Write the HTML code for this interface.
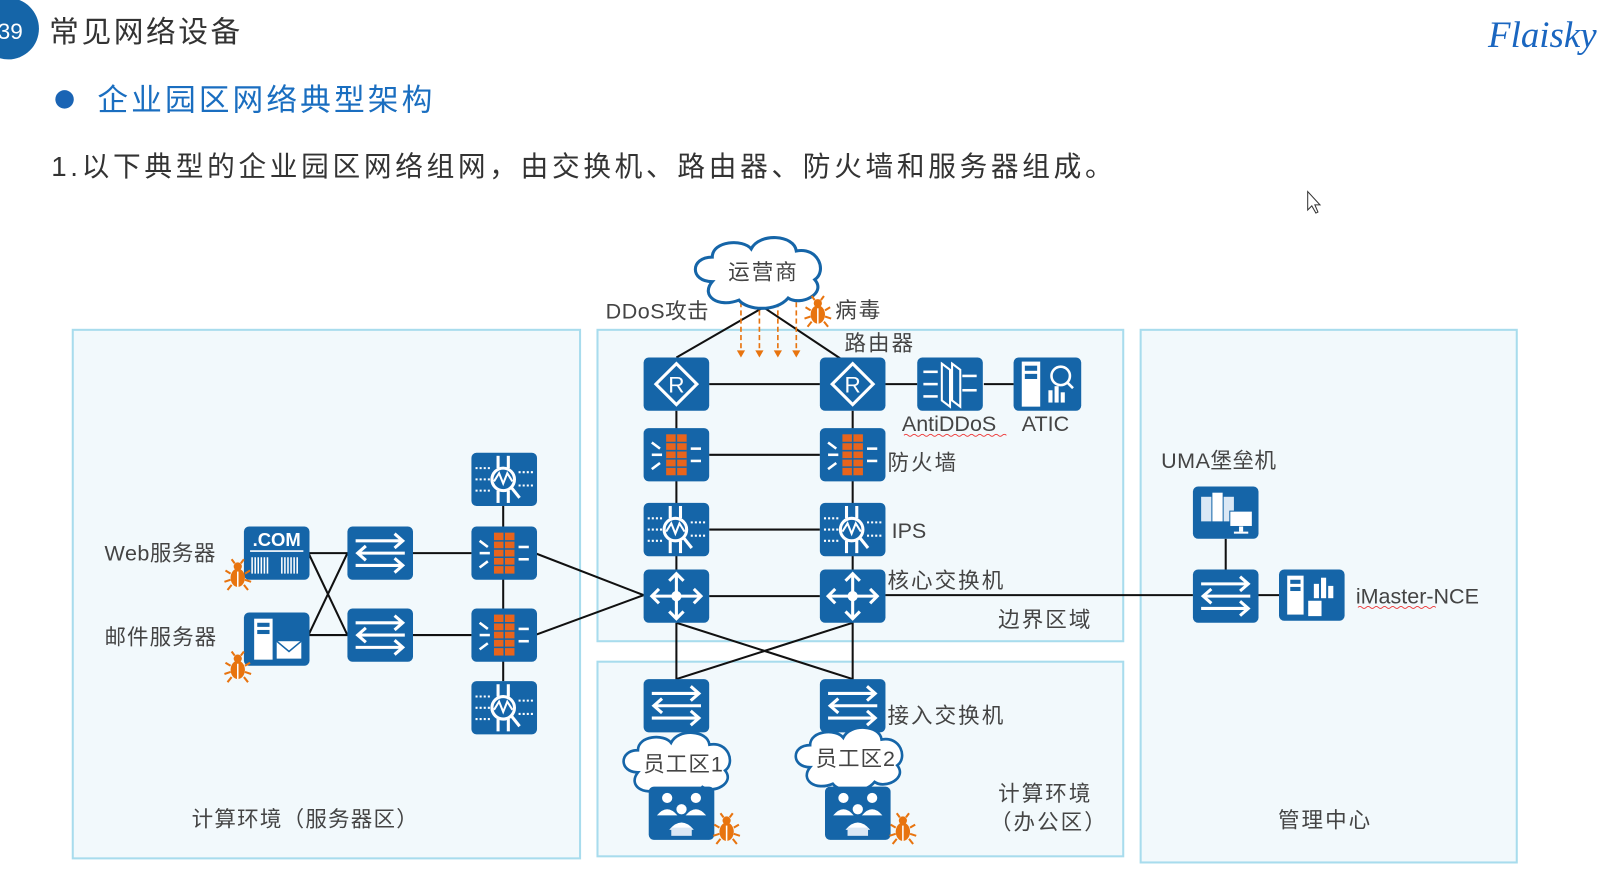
<!DOCTYPE html>
<html><head><meta charset="utf-8"><style>
html,body{margin:0;padding:0;background:#fff;}
svg{display:block;font-family:"Liberation Sans","Noto Sans CJK SC",sans-serif;}
</style></head><body>
<svg width="1609" height="885" viewBox="0 0 1570 864" preserveAspectRatio="none" xmlns="http://www.w3.org/2000/svg">
<defs>
<g id="box"><rect x="0" y="0" width="64" height="52" rx="5" fill="#1565a8"/></g>
<g id="router"><use href="#box"/><path d="M32 6 L52 26 L32 46 L12 26Z" fill="none" stroke="#fff" stroke-width="3"/><text x="32" y="34" font-size="22" fill="#fff" text-anchor="middle">R</text></g>
<g id="fw"><use href="#box"/><rect x="22" y="6" width="20" height="40" fill="#e8641c"/><g stroke="#1565a8" stroke-width="1.5"><line x1="22" y1="14" x2="42" y2="14"/><line x1="22" y1="22" x2="42" y2="22"/><line x1="22" y1="30" x2="42" y2="30"/><line x1="22" y1="38" x2="42" y2="38"/><line x1="32" y1="6" x2="32" y2="46"/></g><g stroke="#fff" stroke-width="2.5"><line x1="8" y1="26" x2="18" y2="26"/><line x1="46" y1="20" x2="56" y2="20"/><line x1="46" y1="32" x2="56" y2="32"/><line x1="8" y1="14" x2="16" y2="20"/><line x1="8" y1="40" x2="16" y2="34"/></g></g>
<g id="ips"><use href="#box"/><g stroke="#fff" stroke-width="2" stroke-dasharray="2 2"><line x1="4" y1="15" x2="18" y2="15"/><line x1="4" y1="26" x2="18" y2="26"/><line x1="4" y1="37" x2="18" y2="37"/><line x1="46" y1="19" x2="60" y2="19"/><line x1="46" y1="32" x2="60" y2="32"/></g><circle cx="31" cy="26" r="11" fill="none" stroke="#fff" stroke-width="3"/><path d="M22 28 L27 20 L31 30 L35 20 L40 28" fill="none" stroke="#fff" stroke-width="2"/><line x1="39" y1="34" x2="47" y2="44" stroke="#fff" stroke-width="3"/><g stroke="#fff" stroke-width="3"><line x1="26" y1="3" x2="26" y2="15"/><line x1="36" y1="3" x2="36" y2="15"/><line x1="26" y1="37" x2="26" y2="49"/><line x1="36" y1="37" x2="36" y2="49"/></g></g>
<g id="sw"><use href="#box"/><g stroke="#fff" stroke-width="3" fill="none"><line x1="8" y1="14" x2="54" y2="14"/><path d="M46 7 L54 14 L46 21"/><line x1="10" y1="26" x2="56" y2="26"/><path d="M18 19 L10 26 L18 33"/><line x1="8" y1="38" x2="54" y2="38"/><path d="M46 31 L54 38 L46 45"/></g></g>
<g id="core"><use href="#box"/><g stroke="#fff" stroke-width="3" fill="none"><line x1="8" y1="26" x2="56" y2="26"/><line x1="32" y1="4" x2="32" y2="48"/><path d="M15 19 L8 26 L15 33"/><path d="M49 19 L56 26 L49 33"/><path d="M25 11 L32 4 L39 11"/><path d="M25 41 L32 48 L39 41"/></g><circle cx="32" cy="26" r="5" fill="#fff"/></g>
<g id="bug" fill="#e8740f"><ellipse cx="0" cy="4" rx="7" ry="9"/><circle cx="0" cy="-7" r="4"/><g stroke="#e8740f" stroke-width="2"><line x1="-7" y1="0" x2="-12" y2="-3"/><line x1="7" y1="0" x2="12" y2="-3"/><line x1="-7" y1="6" x2="-13" y2="8"/><line x1="7" y1="6" x2="13" y2="8"/><line x1="-6" y1="11" x2="-10" y2="16"/><line x1="6" y1="11" x2="10" y2="16"/><line x1="-3" y1="-10" x2="-6" y2="-14"/><line x1="3" y1="-10" x2="6" y2="-14"/></g><line x1="0" y1="-2" x2="0" y2="13" stroke="#fff" stroke-width="1.5"/></g>
<g id="people"><use href="#box"/><g fill="#fff"><circle cx="18" cy="11" r="5"/><circle cx="46" cy="11" r="5"/><circle cx="32" cy="22" r="5"/><path d="M8 28 Q18 16 28 28Z"/><path d="M36 28 Q46 16 56 28Z"/><path d="M20 42 Q32 28 44 42Z"/><rect x="22" y="40" width="20" height="8" fill="#dbe8f5"/></g></g>
<g id="cloud"><path d="M-50 10 C-72 10 -72 -14 -50 -14 C-50 -30 -20 -32 -12 -22 C-4 -38 30 -36 32 -20 C54 -24 62 0 50 8 C62 22 36 34 24 26 C12 40 -16 38 -24 28 C-44 36 -62 24 -50 10Z" fill="#fff" stroke="#1565a8" stroke-width="3"/></g>
</defs>

<!-- header -->
<circle cx="8" cy="28" r="30" fill="#1565a8"/>
<text x="10" y="38" font-size="22" fill="#fff" text-anchor="middle">39</text>
<text x="48" y="41" font-size="29" fill="#333" letter-spacing="2.5">常见网络设备</text>
<text x="1452" y="46" font-size="36" fill="#1a66c0" font-style="italic" font-family="Liberation Serif,serif">Flaisky</text>
<circle cx="63" cy="97" r="9" fill="#1a64b4"/>
<text x="95" y="108" font-size="30" fill="#1a6ec0" letter-spacing="3">企业园区网络典型架构</text>
<text x="50" y="172" font-size="27" fill="#333" letter-spacing="3.6">1.以下典型的企业园区网络组网，由交换机、路由器、防火墙和服务器组成。</text>
<path d="M1276 187 L1276 205 L1280 201 L1284 208 L1286 207 L1283 200 L1288 200Z" fill="#fff" stroke="#333" stroke-width="1"/>

<!-- zones -->
<g fill="#f2f9fc" stroke="#a8dced" stroke-width="2">
<rect x="71" y="322" width="495" height="516"/>
<rect x="583" y="322" width="513" height="304"/>
<rect x="583" y="646" width="513" height="190"/>
<rect x="1113" y="322" width="367" height="520"/>
</g>

<!-- lines -->
<g stroke="#111" stroke-width="2" fill="none">
<path d="M660 349 L745 300 L820 350"/>
<line x1="692" y1="375" x2="800" y2="375"/><line x1="864" y1="375" x2="895" y2="375"/><line x1="960" y1="375" x2="989" y2="375"/>
<line x1="692" y1="444" x2="800" y2="444"/><line x1="692" y1="517" x2="800" y2="517"/><line x1="692" y1="582" x2="800" y2="582"/>
<line x1="660" y1="401" x2="660" y2="556"/><line x1="832" y1="401" x2="832" y2="556"/>
<line x1="864" y1="581" x2="1164" y2="581"/><line x1="1196" y1="526" x2="1196" y2="556"/><line x1="1228" y1="581" x2="1248" y2="581"/>
<path d="M660 608 L660 663 L832 608 L832 663 L660 608"/>
<line x1="522" y1="540" x2="628" y2="581"/><line x1="522" y1="620" x2="628" y2="581"/>
<line x1="491" y1="492" x2="491" y2="665"/>
<line x1="402" y1="540" x2="460" y2="540"/><line x1="402" y1="620" x2="460" y2="620"/>
<path d="M301 540 L339 540 L301 620 L339 620 L301 540"/>
</g>
<g stroke="#e8740f" stroke-width="1.6" stroke-dasharray="5 3"><line x1="723" y1="295" x2="723" y2="344"/><line x1="741" y1="295" x2="741" y2="344"/><line x1="759" y1="295" x2="759" y2="344"/><line x1="777" y1="295" x2="777" y2="344"/></g>
<g fill="#e8740f"><path d="M719 342 L727 342 L723 349Z"/><path d="M737 342 L745 342 L741 349Z"/><path d="M755 342 L763 342 L759 349Z"/><path d="M773 342 L781 342 L777 349Z"/></g>

<use href="#cloud" transform="translate(745,265)"/>
<text x="745" y="273" font-size="21" fill="#444" text-anchor="middle" letter-spacing="2">运营商</text>

<!-- middle devices -->
<use href="#router" x="628" y="349"/><use href="#router" x="800" y="349"/>
<g transform="translate(895,349)"><use href="#box"/><g stroke="#fff" stroke-width="2.5"><line x1="6" y1="14" x2="20" y2="14"/><line x1="6" y1="26" x2="20" y2="26"/><line x1="6" y1="38" x2="20" y2="38"/><line x1="44" y1="18" x2="58" y2="18"/><line x1="44" y1="32" x2="58" y2="32"/></g><path d="M24 6 L32 12 L32 48 L24 42Z M34 6 L42 12 L42 48 L34 42Z" fill="none" stroke="#fff" stroke-width="2"/></g>
<g transform="translate(989,349)"><rect width="66" height="52" rx="5" fill="#1565a8"/><rect x="8" y="4" width="18" height="44" fill="#fff"/><rect x="11" y="8" width="12" height="5" fill="#1565a8"/><rect x="11" y="16" width="12" height="5" fill="#1565a8"/><circle cx="46" cy="18" r="9" fill="none" stroke="#fff" stroke-width="2.5"/><line x1="52" y1="24" x2="58" y2="30" stroke="#fff" stroke-width="2.5"/><rect x="34" y="32" width="4" height="12" fill="#fff"/><rect x="40" y="28" width="4" height="16" fill="#fff"/><rect x="46" y="34" width="4" height="10" fill="#fff"/></g>
<use href="#fw" x="628" y="418"/><use href="#fw" x="800" y="418"/>
<use href="#ips" x="628" y="491"/><use href="#ips" x="800" y="491"/>
<use href="#core" x="628" y="556"/><use href="#core" x="800" y="556"/>
<use href="#sw" x="628" y="663"/><use href="#sw" x="800" y="663"/>
<use href="#cloud" transform="translate(665,745) scale(0.85,0.9)"/>
<use href="#cloud" transform="translate(833,740) scale(0.85,0.9)"/>
<text x="667" y="753" font-size="21" fill="#444" text-anchor="middle" letter-spacing="1">员工区1</text>
<text x="835" y="748" font-size="21" fill="#444" text-anchor="middle" letter-spacing="1">员工区2</text>
<use href="#people" x="633" y="768"/><use href="#people" x="805" y="768"/>
<use href="#bug" transform="translate(709,808)"/><use href="#bug" transform="translate(881,808)"/>
<use href="#bug" transform="translate(798,303)"/>

<!-- left devices -->
<use href="#ips" x="460" y="442"/><use href="#fw" x="460" y="514"/><use href="#fw" x="460" y="594"/><use href="#ips" x="460" y="665"/>
<use href="#sw" x="339" y="514"/><use href="#sw" x="339" y="594"/>
<g transform="translate(238,514)"><rect width="64" height="52" rx="5" fill="#1565a8"/><text x="32" y="19" font-size="18" font-weight="bold" fill="#fff" text-anchor="middle">.COM</text><line x1="6" y1="24" x2="58" y2="24" stroke="#fff" stroke-width="1.5"/><path d="M8 30 V46 M11 30 V46 M14 30 V46 M17 30 V46 M20 30 V46 M23 30 V46 M37 30 V46 M40 30 V46 M43 30 V46 M46 30 V46 M49 30 V46 M52 30 V46" stroke="#fff" stroke-width="1.5"/></g>
<g transform="translate(238,598)"><rect width="64" height="52" rx="5" fill="#1565a8"/><rect x="10" y="6" width="18" height="40" fill="#fff"/><rect x="13" y="10" width="12" height="4" fill="#1565a8"/><rect x="13" y="17" width="12" height="4" fill="#1565a8"/><rect x="32" y="28" width="24" height="17" fill="#fff"/><path d="M32 28 L44 38 L56 28" fill="none" stroke="#1565a8" stroke-width="1.5"/></g>
<use href="#bug" transform="translate(232,560)"/><use href="#bug" transform="translate(232,650)"/>

<!-- right devices -->
<g transform="translate(1164,475)"><rect width="64" height="51" rx="5" fill="#1565a8"/><rect x="8" y="10" width="10" height="24" fill="#dbe8f5"/><rect x="19" y="6" width="10" height="28" fill="#fff"/><rect x="30" y="10" width="10" height="24" fill="#dbe8f5"/><rect x="36" y="24" width="22" height="15" fill="#fff" stroke="#1565a8"/><rect x="45" y="39" width="4" height="5" fill="#fff"/><rect x="40" y="44" width="14" height="2" fill="#fff"/></g>
<use href="#sw" x="1164" y="556"/>
<g transform="translate(1248,556)"><rect width="64" height="50" rx="5" fill="#1565a8"/><rect x="8" y="6" width="16" height="38" fill="#fff"/><rect x="11" y="10" width="10" height="4" fill="#1565a8"/><rect x="11" y="17" width="10" height="4" fill="#1565a8"/><rect x="34" y="14" width="5" height="14" fill="#fff"/><rect x="41" y="8" width="5" height="20" fill="#fff"/><rect x="48" y="16" width="5" height="12" fill="#fff"/><rect x="28" y="30" width="14" height="16" fill="#fff" stroke="#1565a8"/></g>

<!-- labels -->
<g font-size="21" fill="#444" letter-spacing="2">
<text x="591" y="311" letter-spacing="0.5">DDoS攻击</text>
<text x="815" y="310">病毒</text>
<text x="824" y="342">路由器</text>
<text x="880" y="421" letter-spacing="0">AntiDDoS</text>
<text x="997" y="421" letter-spacing="0">ATIC</text>
<text x="866" y="459">防火墙</text>
<text x="870" y="525" letter-spacing="0">IPS</text>
<text x="866" y="574">核心交换机</text>
<text x="974" y="612">边界区域</text>
<text x="866" y="706">接入交换机</text>
<text x="974" y="782">计算环境</text>
<text x="966" y="810">（办公区）</text>
<text x="1133" y="457" letter-spacing="0.5">UMA堡垒机</text>
<text x="1323" y="589" letter-spacing="0">iMaster-NCE</text>
<text x="1247" y="808">管理中心</text>
<text x="102" y="547" letter-spacing="0.5">Web服务器</text>
<text x="102" y="629" letter-spacing="1">邮件服务器</text>
<text x="187" y="807" letter-spacing="1.2">计算环境（服务器区）</text>
</g>
<path d="M882 425 q2 -2 4 0 t4 0 t4 0 t4 0 t4 0 t4 0 t4 0 t4 0 t4 0 t4 0 t4 0 t4 0 t4 0 t4 0 t4 0 t4 0 t4 0 t4 0 t4 0 t4 0 t4 0 t4 0 t4 0 t4 0 t4 0" fill="none" stroke="#e33" stroke-width="0.8"/>
<path d="M1325 593 q2 -2 4 0 t4 0 t4 0 t4 0 t4 0 t4 0 t4 0 t4 0 t4 0 t4 0 t4 0 t4 0 t4 0 t4 0 t4 0 t4 0 t4 0 t4 0 t4 0" fill="none" stroke="#e33" stroke-width="0.8"/>
</svg>
</body></html>
